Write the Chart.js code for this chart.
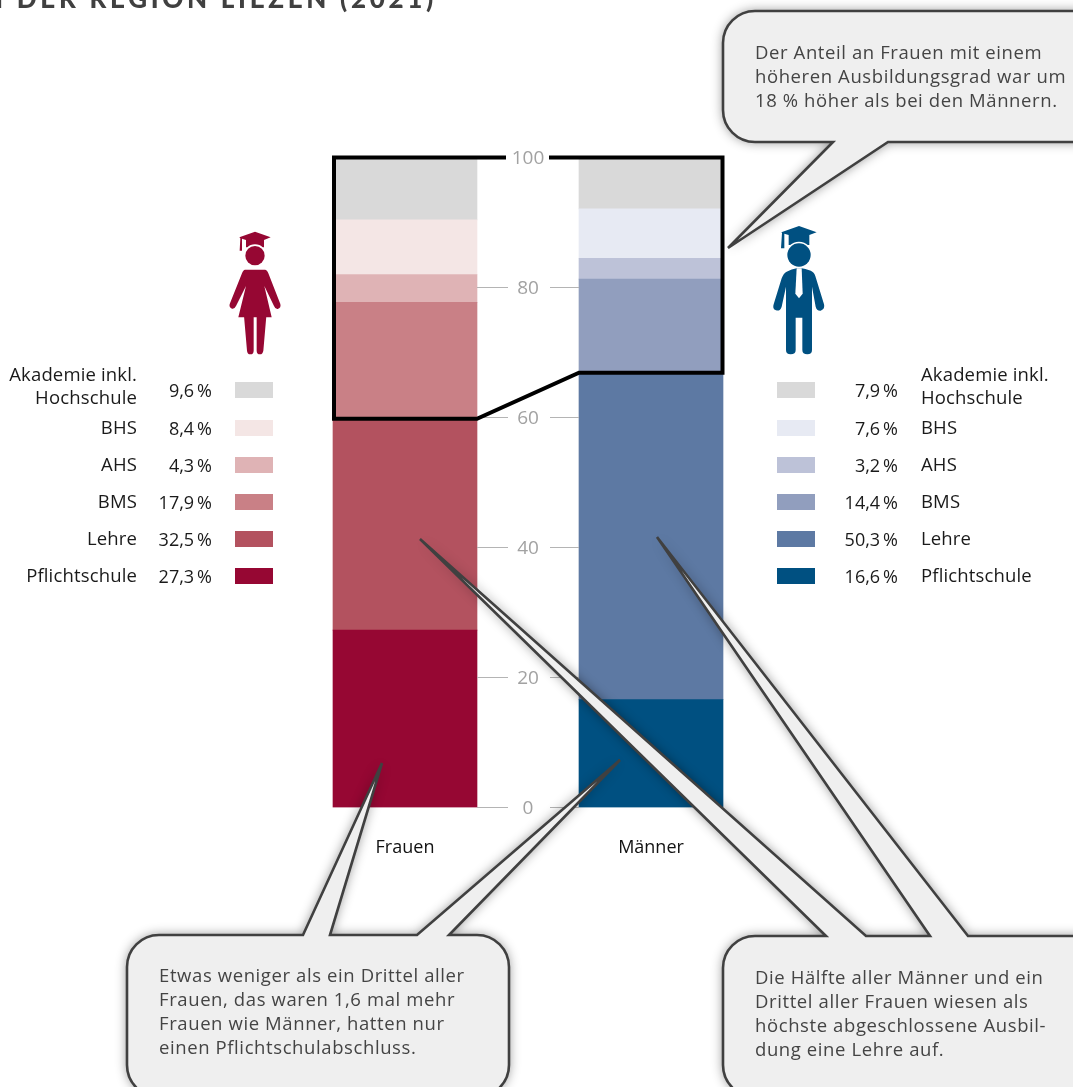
<!DOCTYPE html>
<html lang="de"><head><meta charset="utf-8">
<style>html,body{margin:0;padding:0;background:#fff;overflow:hidden}canvas{display:block}</style>
<script src="https://cdn.jsdelivr.net/npm/chart.js@4/dist/chart.umd.min.js"></script>
</head><body><canvas id="c" width="1073" height="1087"></canvas>
<script>
const categories = ['Frauen', 'Männer'];
const levels = ['Pflichtschule', 'Lehre', 'BMS', 'AHS', 'BHS', 'Akademie inkl.|Hochschule'];
const frauenValues = [27.3, 32.5, 17.9, 4.3, 8.4, 9.6];
const maennerValues = [16.6, 50.3, 14.4, 3.2, 7.6, 7.9];
const frauenColors = ['#960733', '#b3525f', '#c98086', '#dfb3b5', '#f4e6e5', '#d9d9d9'];
const maennerColors = ['#005081', '#5d79a3', '#919ebe', '#bdc2d8', '#e7eaf3', '#d9d9d9'];
const legendCenters = [576, 539, 502, 465, 428, 390];
const titleText = 'IN DER REGION LIEZEN (2021)';
const calloutTop = ['Der Anteil an Frauen mit einem', 'höheren Ausbildungsgrad war um', '18 % höher als bei den Männern.'];
const calloutLeft = ['Etwas weniger als ein Drittel aller', 'Frauen, das waren 1,6 mal mehr', 'Frauen wie Männer, hatten nur', 'einen Pflichtschulabschluss.'];
const calloutRight = ['Die Hälfte aller Männer und ein', 'Drittel aller Frauen wiesen als', 'höchste abgeschlossene Ausbil-', 'dung eine Lehre auf.'];

const FONT = '"Open Sans", sans-serif';

function callout(ctx, x0, y0, x1, y1, r, topTails, bottomTails, lines, tx, ty) {
  ctx.save();
  ctx.beginPath();
  ctx.moveTo(x0 + r, y0);
  topTails.forEach(t => { ctx.lineTo(t[0], y0); ctx.lineTo(t[2], t[3]); ctx.lineTo(t[1], y0); });
  ctx.arcTo(x1, y0, x1, y1, r);
  ctx.arcTo(x1, y1, x0, y1, r);
  bottomTails.forEach(t => { ctx.lineTo(t[1], y1); ctx.lineTo(t[2], t[3]); ctx.lineTo(t[0], y1); });
  ctx.arcTo(x0, y1, x0, y0, r);
  ctx.arcTo(x0, y0, x1, y0, r);
  ctx.closePath();
  ctx.shadowColor = 'rgba(0,0,0,0.45)';
  ctx.shadowBlur = 12;
  ctx.fillStyle = '#efefef';
  ctx.fill();
  ctx.shadowColor = 'transparent';
  ctx.shadowBlur = 0;
  ctx.strokeStyle = '#404040';
  ctx.lineWidth = 2.6;
  ctx.lineJoin = 'miter';
  ctx.miterLimit = 4;
  ctx.stroke();
  ctx.fillStyle = '#444';
  ctx.font = '18.5px ' + FONT;
  ctx.letterSpacing = '0.6px';
  ctx.textAlign = 'left';
  ctx.textBaseline = 'middle';
  lines.forEach((s, i) => ctx.fillText(s, tx, ty + i * 24));
  ctx.restore();
}

function legend(ctx, side) {
  const left = side === 'l';
  const vals = left ? frauenValues : maennerValues;
  const cols = left ? frauenColors : maennerColors;
  ctx.save();
  ctx.textBaseline = 'middle';
  levels.forEach((lab, i) => {
    const y = legendCenters[i];
    ctx.fillStyle = cols[i];
    ctx.fillRect(left ? 235 : 777, y - 8, 38, 16);
    ctx.fillStyle = '#1a1a1a';
    ctx.textAlign = 'right';
    ctx.font = '18px ' + FONT;
    ctx.letterSpacing = '0px';
    ctx.fillText(String(vals[i]).replace('.', ',') + '\u2009%', left ? 212 : 898, y + 2);
    ctx.font = '18.5px ' + FONT;
    ctx.letterSpacing = '0.15px';
    ctx.textAlign = left ? 'right' : 'left';
    const parts = lab.split('|');
    const lx = left ? 137 : 921;
    if (parts.length === 2) {
      ctx.fillText(parts[0], lx, y - 14);
      ctx.fillText(parts[1], lx, y + 9);
    } else ctx.fillText(parts[0], lx, y + 1);
  });
  ctx.restore();
}

function woman(ctx) {
  ctx.save();
  ctx.translate(200, 220); ctx.scale(1 / 3, 1 / 3);
  ctx.fillStyle = '#960733';
  ctx.fill(new Path2D('M118,52 L165,35 L212,52 L192,60 L192,82 L138,82 L138,60 L126,56 L126,92 L119,92 L121,55 Z'));
  ctx.fillStyle = '#fff';
  ctx.beginPath(); ctx.arc(165, 107, 34, 0, 7); ctx.fill();
  ctx.fillStyle = '#960733';
  ctx.beginPath(); ctx.arc(165, 107, 29, 0, 7); ctx.fill();
  ctx.fill(new Path2D('M135,149 L195,149 Q201,149 205,160 L241,252 Q244,264 233,267 Q226,268 222,258 L193,198 L215,292 L115,292 L138,198 L108,258 Q103,268 96,266 Q85,262 90,250 L126,160 Q130,149 135,149 Z'));
  ctx.fill(new Path2D('M132,288 L161,288 L161,392 Q161,403 151,403 Q142,403 141,392 Z M170,288 L199,288 L190,392 Q188,403 180,403 Q170,403 170,392 Z'));
  ctx.restore();
}

function man(ctx) {
  ctx.save();
  ctx.translate(750, 215); ctx.scale(1 / 3, 1 / 3);
  ctx.fillStyle = '#005081';
  ctx.fill(new Path2D('M94,52 L147,33 L200,52 L178,60 L178,90 L116,90 L116,60 L103,56 L103,100 L93,100 L96,54 Z'));
  ctx.fillStyle = '#fff';
  ctx.beginPath(); ctx.arc(147, 120, 40, 0, 7); ctx.fill();
  ctx.fillStyle = '#005081';
  ctx.beginPath(); ctx.arc(147, 120, 35, 0, 7); ctx.fill();
  ctx.fill(new Path2D('M110,170 Q125,163 140,160 L155,160 Q180,165 187,170 Q195,175 198,190 L222,268 Q226,282 212,287 Q200,288 197,275 L186,215 L186,405 Q186,418 172,418 Q157,418 157,405 L157,308 L137,308 L137,405 Q137,418 122,418 Q108,418 108,405 L108,215 L95,275 Q90,290 78,286 Q66,282 71,268 L95,190 Q100,175 110,170 Z'));
  ctx.fillStyle = '#fff';
  ctx.fill(new Path2D('M140,160 L155,160 L158,236 L147,250 L136,236 Z'));
  ctx.restore();
}

const decorations = {
  id: 'decorations',
  afterDraw(chart) {
    const ctx = chart.ctx, y = chart.scales.y;
    ctx.save();
    const bar0 = chart.getDatasetMeta(0).data[0], bar1 = chart.getDatasetMeta(0).data[1];
    const l0 = bar0.x - bar0.width / 2, r0 = bar0.x + bar0.width / 2;
    const l1 = bar1.x - bar1.width / 2, r1 = bar1.x + bar1.width / 2;
    const mid = (r0 + l1) / 2;
    ctx.strokeStyle = '#b4b4b4';
    ctx.lineWidth = 1;
    ctx.font = '19px ' + FONT;
    ctx.fillStyle = '#a2a2a2';
    ctx.textAlign = 'center';
    ctx.textBaseline = 'middle';
    y.ticks.forEach(t => {
      const p = y.getPixelForValue(t.value);
      ctx.fillText(t.label, mid, p + 1.5);
      if (t.value >= 100) return;
      const py = Math.floor(p) + 0.5;
      ctx.beginPath();
      ctx.moveTo(r0, py); ctx.lineTo(508, py);
      ctx.moveTo(550, py); ctx.lineTo(l1, py);
      ctx.stroke();
    });
    const yF = y.getPixelForValue(frauenValues[0] + frauenValues[1]);
    const yM = y.getPixelForValue(maennerValues[0] + maennerValues[1]);
    const yT = y.getPixelForValue(100);
    ctx.strokeStyle = '#000';
    ctx.lineWidth = 4;
    ctx.lineJoin = 'miter';
    ctx.beginPath();
    ctx.moveTo(506, yT);
    ctx.lineTo(l0 + 1, yT);
    ctx.lineTo(l0 + 1, yF);
    ctx.lineTo(r0, yF);
    ctx.lineTo(l1, yM);
    ctx.lineTo(r1 - 0.5, yM);
    ctx.lineTo(r1 - 0.5, yT);
    ctx.lineTo(549, yT);
    ctx.stroke();
    ctx.restore();
    ctx.save();
    ctx.font = '900 26px Lato, sans-serif';
    ctx.letterSpacing = '3.7px';
    ctx.fillStyle = '#404040';
    ctx.textAlign = 'right';
    ctx.textBaseline = 'alphabetic';
    ctx.fillText(titleText, 437, 8);
    ctx.restore();
    callout(ctx, 723, 11, 1110, 142, 32, [], [[833, 888, 728, 248]], calloutTop, 755, 54);
    callout(ctx, 723, 936, 1110, 1097, 32, [[826, 866, 420, 539], [930, 968, 657, 537]], [], calloutRight, 755, 979);
    callout(ctx, 127, 935, 509, 1097, 32, [[303, 330, 382, 763], [417, 449, 620, 760]], [], calloutLeft, 159, 977);
    legend(ctx, 'l');
    legend(ctx, 'r');
    woman(ctx);
    man(ctx);
  }
};

const datasets = levels.map((lab, i) => ({
  label: lab.replace('|', ' '),
  data: [frauenValues[i], maennerValues[i]],
  backgroundColor: [frauenColors[i], maennerColors[i]],
  borderWidth: 0,
  barThickness: 144
}));

new Chart(document.getElementById('c'), {
  type: 'bar',
  data: { labels: categories, datasets },
  plugins: [decorations],
  options: {
    responsive: false,
    animation: false,
    layout: { padding: { left: 281, right: 299, top: 157.5, bottom: 229.5 } },
    plugins: { legend: { display: false }, tooltip: { enabled: false } },
    scales: {
      x: {
        stacked: true,
        afterFit(s) { s.height = 50; },
        grid: { display: false, drawTicks: false },
        border: { display: false },
        ticks: { color: '#111', font: { family: FONT, size: 18 }, padding: 30, maxRotation: 0, autoSkip: false }
      },
      y: {
        stacked: true,
        min: 0, max: 100,
        afterFit(s) { s.width = 1; },
        grid: { display: false, drawTicks: false },
        border: { display: false },
        ticks: { display: false, stepSize: 20 }
      }
    }
  }
});
</script></body></html>
